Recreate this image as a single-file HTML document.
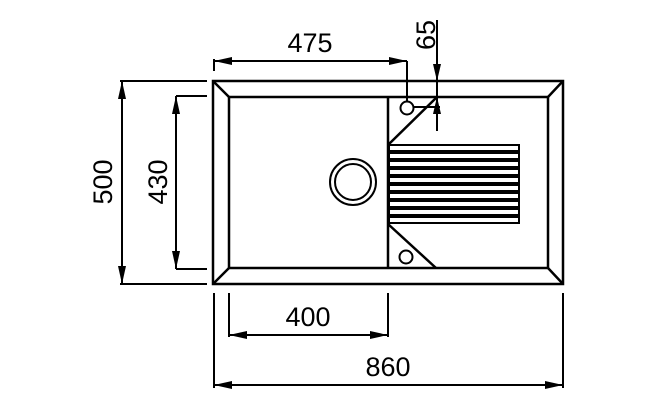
<!DOCTYPE html>
<html><head><style>html,body{margin:0;padding:0;background:#fff}svg{display:block}</style></head>
<body>
<svg width="650" height="413" viewBox="0 0 650 413" xmlns="http://www.w3.org/2000/svg">
<g fill="none" stroke="#000" stroke-width="2.5">
<rect x="213" y="81" width="350" height="203"/>
<rect x="229" y="97" width="319" height="171"/>
<path d="M213,81L229,97M563,81L548,97M213,284L229,268M563,284L548,268"/>
<path d="M388,97V268M388,145L437,97M388,224L436,268"/>
<circle cx="353" cy="182" r="23" stroke-width="2"/>
<circle cx="353" cy="182" r="18" stroke-width="2"/>
<circle cx="407" cy="108" r="6.5" stroke-width="2"/>
<circle cx="406" cy="257" r="6.5" stroke-width="2"/>
</g>
<g fill="none" stroke="#000" stroke-width="2">
<rect x="389" y="145" width="130" height="6"/>
<rect x="389" y="153" width="130" height="6"/>
<rect x="389" y="161" width="130" height="6"/>
<rect x="389" y="169" width="130" height="6"/>
<rect x="389" y="177" width="130" height="6"/>
<rect x="389" y="185" width="130" height="6"/>
<rect x="389" y="193" width="130" height="6"/>
<rect x="389" y="201" width="130" height="6"/>
<rect x="389" y="209" width="130" height="6"/>
<rect x="389" y="217" width="130" height="6"/>
</g>
<g stroke="#000" stroke-width="2" fill="none">
<path d="M214,59V71M407,61V102"/>
<path d="M214,61H407"/>
<path d="M437,20V131M413,107H440"/>
<path d="M120,81H207M120,284H207M176,96H207M176,269H207"/>
<path d="M122,81V284M176,96V269"/>
<path d="M229,293V337M388,293V337M214,293V388M563,293V388"/>
<path d="M229,335H388M214,385H563"/>
</g>
<g fill="#000">
<polygon points="214,61 232,57 232,65"/>
<polygon points="407,61 389,57 389,65"/>
<polygon points="437,81 433,64 441,64"/>
<polygon points="437,97 433,114 441,114"/>
<polygon points="122,81 118,99 126,99"/>
<polygon points="122,284 118,266 126,266"/>
<polygon points="176,96 172,114 180,114"/>
<polygon points="176,269 172,251 180,251"/>
<polygon points="229,335 247,331 247,339"/>
<polygon points="388,335 370,331 370,339"/>
<polygon points="214,385 232,381 232,389"/>
<polygon points="563,385 545,381 545,389"/>
</g>
<g font-family="Liberation Sans, sans-serif" font-size="27" fill="#000" text-anchor="middle">
<text x="310" y="52">475</text>
<text x="308" y="326">400</text>
<text x="388" y="376">860</text>
<text transform="translate(435,35) rotate(-90)">65</text>
<text transform="translate(112,182) rotate(-90)">500</text>
<text transform="translate(167,182) rotate(-90)">430</text>
</g>
</svg>
</body></html>
